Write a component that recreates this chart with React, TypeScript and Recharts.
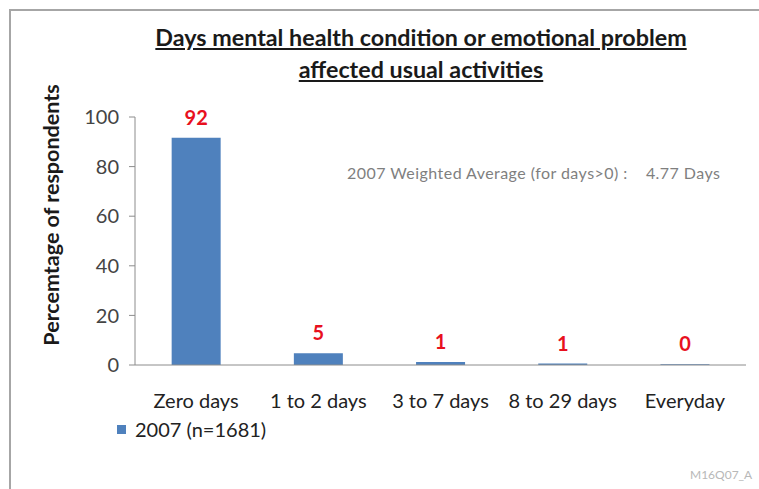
import React from "react";
import { BarChart, Bar, XAxis, YAxis, Legend, LabelList, Label } from "recharts";

const categories = ["Zero days", "1 to 2 days", "3 to 7 days", "8 to 29 days", "Everyday"];
const values2007 = [91.6, 4.7, 1.2, 0.6, 0.3];
const yTicks = [0, 20, 40, 60, 80, 100];
const seriesName = "2007 (n=1681)";
const titleLines = ["Days mental health condition or emotional problem", "affected usual activities"];
const yAxisTitle = "Percemtage of respondents";
const noteText = "2007 Weighted Average (for days>0) :    4.77 Days";
const watermark = "M16Q07_A";

const data = categories.map((c, i) => ({ category: c, v2007: values2007[i] }));

const FONT = "Lato, 'Open Sans', sans-serif";
const BAR_COLOR = "#4f81bd";

const LegendContent = (props: any) => {
  const { payload } = props;
  return (
    <div style={{ display: "flex", alignItems: "center", fontFamily: FONT, fontSize: 20, color: "#222", lineHeight: "24px" }}>
      {(payload || []).map((p: any) => (
        <div key={p.value} style={{ display: "flex", alignItems: "center" }}>
          <span style={{ display: "inline-block", width: 9, height: 9, background: p.color, marginRight: 9 }} />
          <span>{p.value}</span>
        </div>
      ))}
    </div>
  );
};

export default function App() {
  return (
    <div style={{ position: "absolute", left: 0, top: 0, width: 759, height: 489, background: "#fff", overflow: "hidden" }}>
      <div style={{ position: "absolute", left: 9, top: 9, width: 760, height: 2, background: "#a6a6a6" }} />
      <div style={{ position: "absolute", left: 9, top: 9, width: 2, height: 490, background: "#a6a6a6" }} />
      <div
        style={{
          position: "absolute",
          left: 0,
          top: 21,
          width: 842,
          textAlign: "center",
          fontFamily: FONT,
          fontWeight: 700,
          fontSize: 23.3,
          lineHeight: "32px",
          color: "#1a1a1a",
          textDecoration: "underline",
        }}
      >
        <div>{titleLines[0]}</div>
        <div>{titleLines[1]}</div>
      </div>
      <div style={{ position: "absolute", left: 0, top: 0 }}>
        <BarChart
          width={759}
          height={489}
          data={data}
          margin={{ top: 117, right: 13, bottom: 94, left: 75 }}
          barCategoryGap="30%"
        >
          <XAxis
            dataKey="category"
            tickLine={false}
            tickSize={0}
            tickMargin={29}
            height={30}
            axisLine={{ stroke: "#8c8c8c" }}
            tick={{ fill: "#222", fontSize: 20, fontFamily: FONT }}
            interval={0}
          />
          <YAxis
            domain={[0, 100]}
            ticks={yTicks}
            width={60}
            tickSize={6}
            tickMargin={10}
            axisLine={{ stroke: "#8c8c8c" }}
            tickLine={{ stroke: "#8c8c8c" }}
            tick={{ fill: "#444", fontSize: 20, fontFamily: FONT }}
          >
            <Label
              content={(props: any) => {
                const vb = props.viewBox || {};
                const cx = 51;
                const cy = vb.y + vb.height / 2 - 26;
                return (
                  <text
                    x={cx}
                    y={cy}
                    transform={`rotate(-90, ${cx}, ${cy})`}
                    textAnchor="middle"
                    dominantBaseline="central"
                    fontFamily={FONT}
                    fontWeight={700}
                    fontSize={21.5}
                    fill="#1a1a1a"
                  >
                    {yAxisTitle}
                  </text>
                );
              }}
            />
          </YAxis>
          <Legend
            layout="horizontal"
            verticalAlign="middle"
            align="center"
            wrapperStyle={{ position: "absolute", left: 117, top: 417, width: 300 }}
            content={<LegendContent />}
          />
          <Bar dataKey="v2007" name={seriesName} fill={BAR_COLOR} isAnimationActive={false}>
            <LabelList
              dataKey="v2007"
              position="top"
              offset={13}
              formatter={(v: any) => Math.round(Number(v))}
              style={{ fill: "#e8101e", fontWeight: 700, fontSize: 20, fontFamily: FONT }}
            />
          </Bar>
        </BarChart>
      </div>
      <div
        style={{
          position: "absolute",
          left: 347,
          top: 163,
          fontFamily: FONT,
          fontSize: 16,
          letterSpacing: 0.45,
          color: "#7f7f7f",
          whiteSpace: "pre",
        }}
      >
        {noteText}
      </div>
      <div
        style={{
          position: "absolute",
          left: 690,
          top: 467,
          fontFamily: FONT,
          fontSize: 12,
          color: "#b8b8b8",
        }}
      >
        {watermark}
      </div>
    </div>
  );
}
